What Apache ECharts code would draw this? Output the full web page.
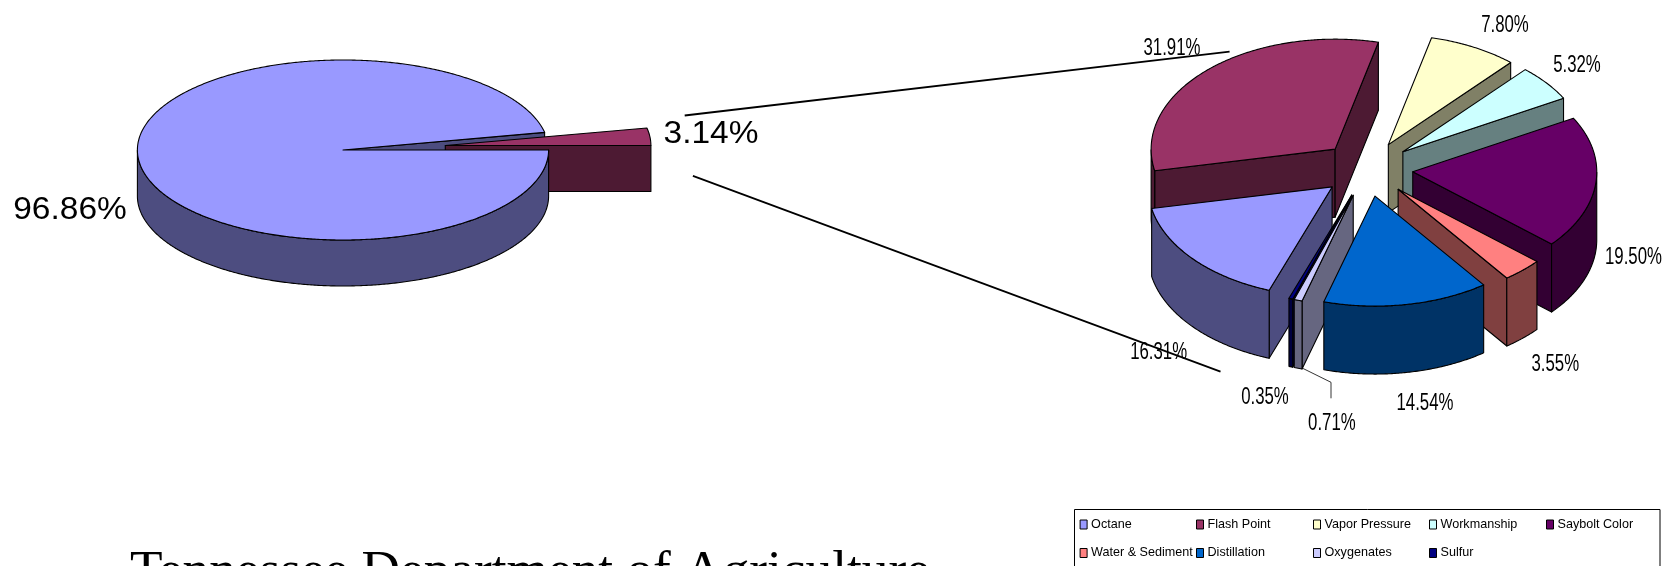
<!DOCTYPE html>
<html><head><meta charset="utf-8">
<style>html,body{margin:0;padding:0;background:#fff}#c{width:1669px;height:566px}</style>
<script src="https://cdn.jsdelivr.net/npm/echarts@6/dist/echarts.min.js"></script>
</head><body><div id="c"></div>
<script>
// ---- data ----
const detailCategories = ['Octane','Flash Point','Vapor Pressure','Workmanship','Saybolt Color','Water & Sediment','Distillation','Oxygenates','Sulfur'];
const detailValues = [16.31,31.91,7.80,5.32,19.50,3.55,14.54,0.71,0.35];
const detailTop = ['#9999FF','#993366','#FFFFCC','#CCFFFF','#660066','#FF8080','#0066CC','#CCCCFF','#000080'];
const detailSide = ['#4D4D80','#4D1A33','#808066','#668080','#330033','#804040','#003366','#666680','#000040'];
const overviewCategories = ['Remaining samples','Failed samples'];
const overviewValues = [96.86,3.14];
const overviewTop = ['#9999FF','#993366'];
const overviewSide = ['#4D4D80','#4D1A33'];
const titleText = 'Tennessee Department of Agriculture';

// ---- layout ----
const overviewPie = {cx:343,cy:150,rx:205.6,ry:90,depth:46,start:360,explode:[0,0.5],fs:31,sx:1.08};
const detailPie = {cx:1367,cy:169,rx:184,ry:110,depth:68,start:250,explode:null,fs:23,sx:0.73};
const overviewLabelAt = [[70,210],[711,134]];
const detailLabelAt = [[1158.6,352.5],[1172,48.2],[1505,25.7],[1577,65.2],[1633.5,257.5],[1555.3,364.2],[1425,403.2],[1331.9,423.2],[1265,397.5]];
const legendColumns = [[1079.6,['Octane','Water & Sediment']],[1196,['Flash Point','Distillation']],[1313,['Vapor Pressure','Oxygenates']],[1429,['Workmanship','Sulfur']],[1546,['Saybolt Color']]];
const LABEL_FONT = '"Liberation Sans",Arial,sans-serif';

function rad(d){return d*Math.PI/180;}
function makeRender(pie,side,top,explode,labelAt,layers){
  return function(params,api){
    const share=api.value(0), before=api.value(1);
    const ts=pie.start-before*3.6, te=ts-share*3.6, mid=(ts+te)/2;
    const cx=pie.cx+explode*pie.rx*Math.cos(rad(mid));
    const cy=pie.cy-explode*pie.ry*Math.sin(rad(mid));
    const P=(t,d)=>[cx+pie.rx*Math.cos(rad(t)),cy-pie.ry*Math.sin(rad(t))+(d||0)];
    const line={stroke:'#000',lineWidth:1.1,lineJoin:'round'};
    const kids=[];
    const poly=(pts,fill,z2)=>kids.push({type:'polygon',silent:true,z2:z2,shape:{points:pts},style:Object.assign({fill:fill},line)});
    const T=[cx,cy], B=[cx,cy+pie.depth];
    // visible cut faces
    if(Math.cos(rad(ts))<0) poly([T,P(ts),P(ts,pie.depth),B],side,layers[0]);
    if(Math.cos(rad(te))>0) poly([T,P(te),P(te,pie.depth),B],side,layers[0]);
    // outer wall: only the front half of the rim shows
    const rim=[];
    const n=Math.max(2,Math.ceil((ts-te)/0.5));
    for(let i=0;i<=n;i++){const t=ts-(ts-te)*i/n; if(Math.sin(rad(t))<=1e-6) rim.push(t);}
    if(rim.length>1){
      const a=rim.map(t=>P(t)), b=rim.slice().reverse().map(t=>P(t,pie.depth));
      poly(a.concat(b),side,layers[1]);
    }
    // top face
    const arc=[T];
    for(let i=0;i<=n;i++) arc.push(P(ts-(ts-te)*i/n));
    poly(arc,top,layers[1]+1);
    kids.push({type:'text',silent:true,x:labelAt[0],y:labelAt[1],scaleX:pie.sx,z2:50,
      style:{text:share.toFixed(2)+'%',fill:'#000',align:'center',verticalAlign:'middle',
        font:pie.fs+'px '+LABEL_FONT}});
    return {type:'group',children:kids};
  };
}
function buildSeries(names,values,tops,sides,pie,labels,isOverview){
  let before=0;
  const items=names.map((nm,i)=>{
    const b=before; before+=values[i];
    return {i,nm,b,mid:pie.start-(b+values[i]/2)*3.6};
  });
  const order=items.slice().sort((a,b)=>Math.sin(rad(b.mid))-Math.sin(rad(a.mid)));
  return items.map(it=>({
    type:'custom',name:it.nm,coordinateSystem:'none',silent:true,animation:false,
    z:isOverview?2:22+order.indexOf(it),
    itemStyle:{color:tops[it.i]},
    data:[[values[it.i],it.b]],
    // overview: big slice's cut face sits under the pulled-out slice, its rim and top above it
    renderItem:makeRender(pie,sides[it.i],tops[it.i],pie.explode?pie.explode[it.i]:0.25,labels[it.i],
      isOverview?(it.i===0?[1,4]:[2,2]):[1,2])
  }));
}
const series=buildSeries(overviewCategories,overviewValues,overviewTop,overviewSide,overviewPie,overviewLabelAt,true)
  .concat(buildSeries(detailCategories,detailValues,detailTop,detailSide,detailPie,detailLabelAt,false));

const legends=legendColumns.map(c=>({
  show:true,orient:'vertical',left:c[0],top:518,padding:0,itemGap:15.5,itemWidth:7,itemHeight:9,icon:'rect',selectedMode:false,
  data:c[1],itemStyle:{borderColor:'#000',borderWidth:1},
  textStyle:{fontFamily:LABEL_FONT,fontSize:12.6,color:'#000',padding:[0,0,0,-1]}
}));

const chart=echarts.init(document.getElementById('c'),null,{renderer:'canvas'});
chart.setOption({
  animation:false,backgroundColor:'#fff',tooltip:{show:false},
  title:{text:titleText,left:130,top:547,padding:0,textStyle:{fontFamily:'"Liberation Serif","Times New Roman",serif',fontSize:53.3,fontWeight:'normal',color:'#000'}},
  legend:legends,
  series:series,
  graphic:[
    {type:'rect',silent:true,z:1,shape:{x:1074.5,y:509.5,width:585.5,height:70},style:{fill:'#fff',stroke:'#000',lineWidth:1}},
    {type:'line',silent:true,z:60,shape:{x1:684.7,y1:115.5,x2:1229.6,y2:51.7},style:{stroke:'#000',lineWidth:1.8}},
    {type:'line',silent:true,z:60,shape:{x1:692.9,y1:175.8,x2:1220.5,y2:371.7},style:{stroke:'#000',lineWidth:1.8}},
    {type:'polyline',silent:true,z:60,shape:{points:[[1302.7,368.3],[1331,382.3],[1331,398.3]]},style:{stroke:'#000',lineWidth:0.8,fill:'none'}}
  ]
});
</script></body></html>
